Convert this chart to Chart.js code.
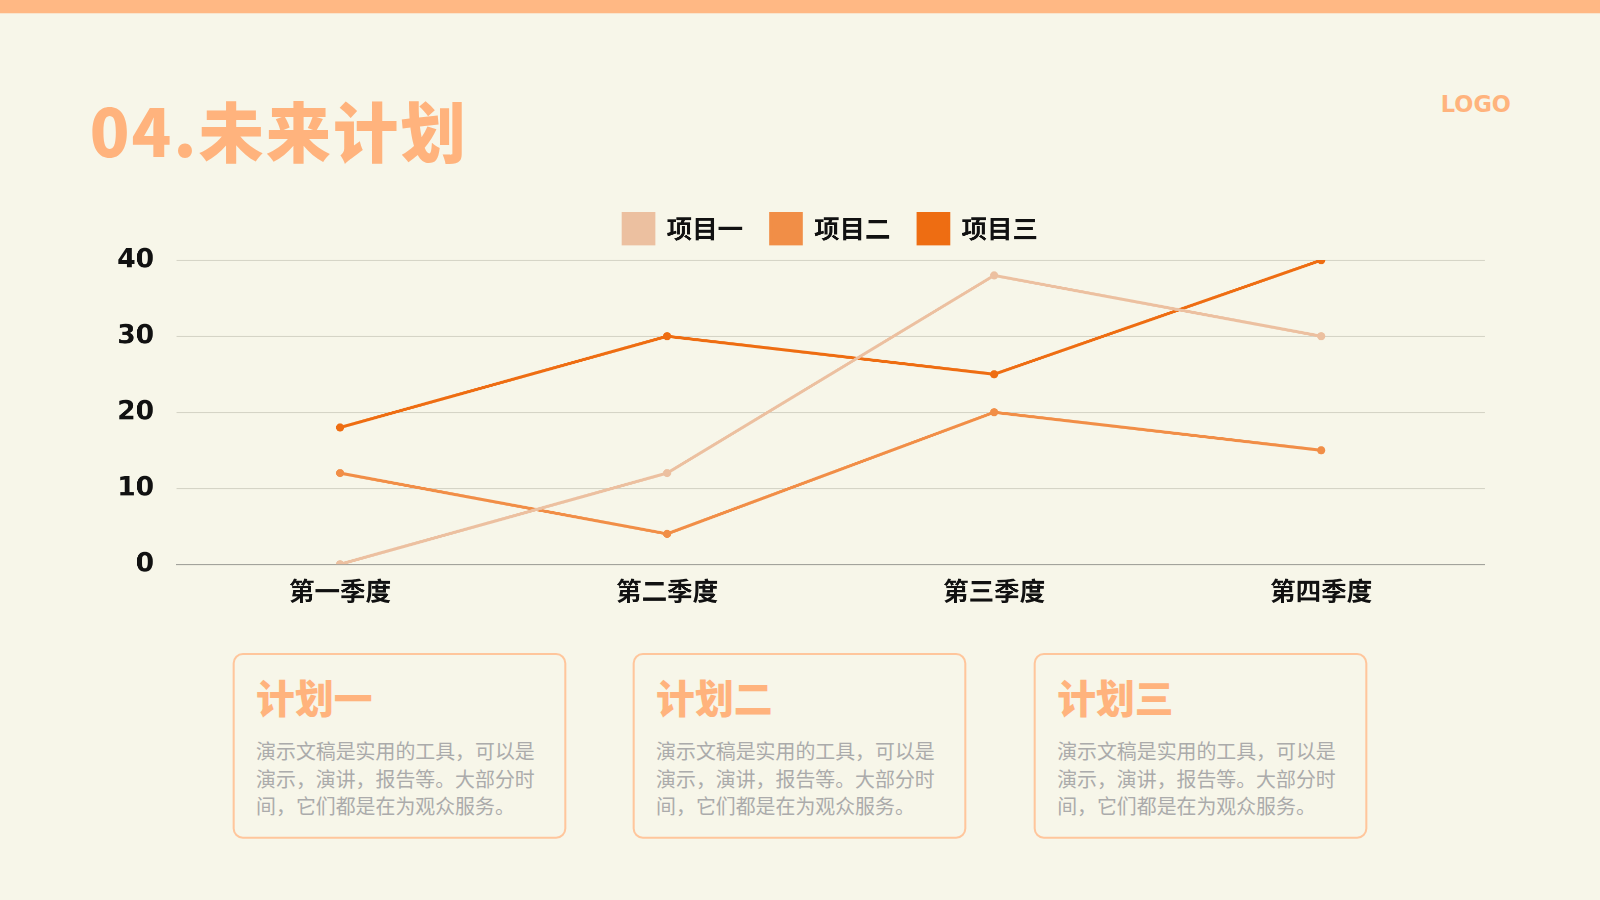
<!DOCTYPE html>
<html>
<head>
<meta charset="utf-8">
<script src="https://cdn.jsdelivr.net/npm/chart.js@4"></script>
<style>
	html, body { margin: 0; padding: 0; overflow: hidden; background: #F7F6E9; }
	#stage { position: relative; width: 1568px; height: 882px; background: #F7F6E9; transform: scale(1.020408); transform-origin: 0 0; font-family: "Noto Sans CJK SC", "Noto Sans", sans-serif; }
	.bar { position: absolute; left: 0; width: 1568px; height: 13px; background: #FFB884; }
	#title { position: absolute; left: 88px; top: 81px; font-size: 64px; font-weight: 900; color: #FFB37D; letter-spacing: 2px; line-height: 90px; }
	#logo { position: absolute; left: 1412px; top: 90px; font-family: "DejaVu Sans", sans-serif; font-weight: bold; font-size: 22px; color: #FFB37D; }
	#chartBox { position: absolute; left: 100px; top: 180px; width: 1400px; height: 430px; }
	.card { position: absolute; top: 640px; width: 323px; height: 178px; border: 2px solid #FFC69C; border-radius: 10px; box-sizing: content-box; }
	.card h3 { margin: 0; position: absolute; left: 21px; top: 18px; font-size: 38px; line-height: 46px; font-weight: 900; color: #FFB37D; }
	.card p { margin: 0; position: absolute; left: 21px; top: 80px; font-size: 19.5px; line-height: 27px; color: #ABABAB; white-space: nowrap; }
</style>
</head>
<body>
<div id="stage">
	<div class="bar" style="top:0"></div>
	<div class="bar" style="top:869px"></div>
	<div id="title">04.未来计划</div>
	<div id="logo">LOGO</div>
	<div id="chartBox"><canvas id="chart"></canvas></div>
	<div class="card" style="left:228px"><h3>计划一</h3><p>演示文稿是实用的工具，可以是<br>演示，演讲，报告等。大部分时<br>间，它们都是在为观众服务。</p></div>
	<div class="card" style="left:620px"><h3>计划二</h3><p>演示文稿是实用的工具，可以是<br>演示，演讲，报告等。大部分时<br>间，它们都是在为观众服务。</p></div>
	<div class="card" style="left:1013px"><h3>计划三</h3><p>演示文稿是实用的工具，可以是<br>演示，演讲，报告等。大部分时<br>间，它们都是在为观众服务。</p></div>
</div>
<script>
let categories = ['第一季度', '第二季度', '第三季度', '第四季度'];
let seriesNames = ['项目一', '项目二', '项目三'];
let project1 = [0, 12, 38, 30];
let project2 = [12, 4, 20, 15];
let project3 = [18, 30, 25, 40];
let yTicks = [0, 10, 20, 30, 40];
let colors = ['#ECC0A0', '#F18E47', '#EE6D12'];

let makeSet = (label, values, color) => ({
	label: label,
	data: values,
	borderColor: color,
	backgroundColor: color,
	borderWidth: 3,
	pointRadius: 4,
	pointBackgroundColor: color,
	pointBorderWidth: 0,
	tension: 0
});

let config = {
	type: 'line',
	data: {
		labels: categories,
		datasets: [
			makeSet(seriesNames[0], project1, colors[0]),
			makeSet(seriesNames[1], project2, colors[1]),
			makeSet(seriesNames[2], project3, colors[2])
		]
	},
	options: {
		responsive: true,
		maintainAspectRatio: false,
		devicePixelRatio: 2,
		animation: false,
		layout: { padding: { top: 2, right: 45, left: 0, bottom: 0 } },
		plugins: {
			tooltip: { enabled: false },
			// empty spacer between legend and plot
			subtitle: {
				display: true,
				text: '',
				weight: 500,
				padding: 0,
				font: { size: 6, lineHeight: 1 }
			},
			legend: {
				position: 'top',
				fullSize: false,
				labels: {
					boxWidth: 30,
					boxHeight: 30,
					padding: 27,
					color: '#111111',
					font: { family: '"Noto Sans CJK SC"', size: 25, weight: 'bold' }
				}
			}
		},
		scales: {
			x: {
				offset: true,
				grid: { display: false, drawTicks: false },
				border: { display: true, color: '#A3A39C', width: 1.5 },
				ticks: { color: '#111111', padding: 11, font: { family: '"Noto Sans CJK SC"', size: 25, weight: 'bold' } },
				afterFit: (scale) => { scale.height = 57; }
			},
			y: {
				min: 0,
				max: 40,
				afterBuildTicks: (scale) => { scale.ticks = yTicks.map(v => ({ value: v })); },
				grid: {
					drawTicks: false,
					color: (ctx) => ctx.tick && ctx.tick.value === 0 ? '#A3A39C' : '#D5D4C6',
					lineWidth: 1.2
				},
				border: { display: false },
				ticks: { color: '#111111', padding: 22, font: { family: '"DejaVu Sans"', size: 26, weight: 'bold' } },
				afterFit: (scale) => { scale.width = 73; }
			}
		}
	}
};

let myChart = new Chart(document.getElementById('chart'), config);
</script>
</body>
</html>
